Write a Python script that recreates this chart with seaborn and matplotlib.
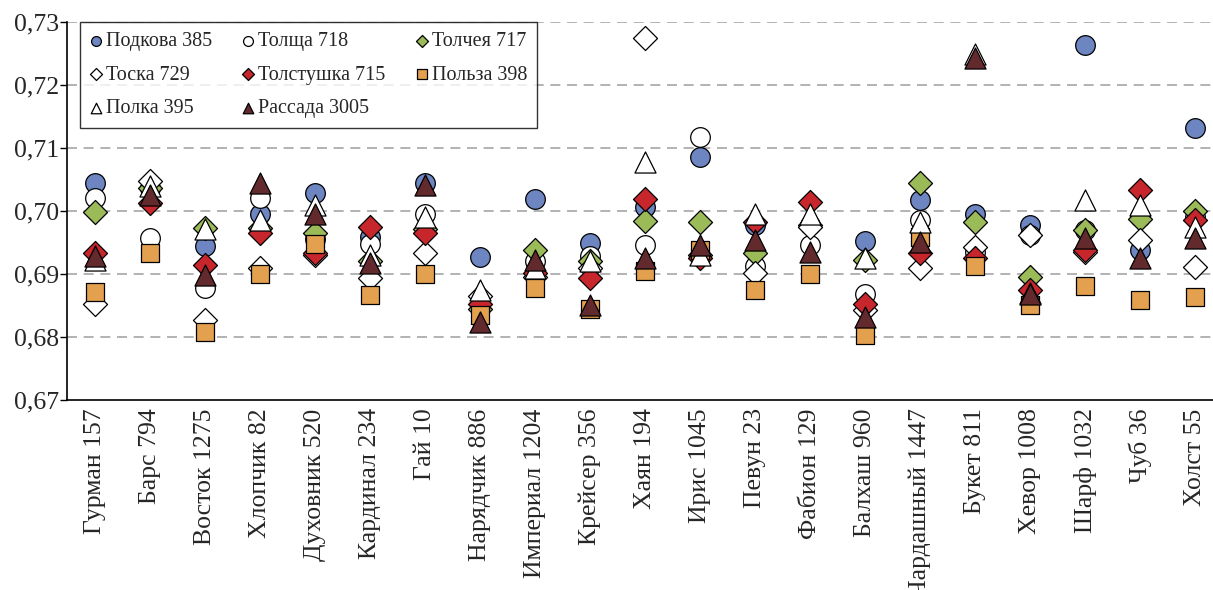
import numpy as np
import pandas as pd
import seaborn as sns
import matplotlib.pyplot as plt
from matplotlib.ticker import FixedLocator, FuncFormatter

# сорта (ось X)
sorta = ['Гурман 157', 'Барс 794', 'Восток 1275', 'Хлопчик 82', 'Духовник 520', 'Кардинал 234',
         'Гай 10', 'Нарядчик 886', 'Империал 1204', 'Крейсер 356', 'Хаян 194', 'Ирис 1045',
         'Певун 23', 'Фабион 129', 'Балхаш 960', 'Чардашный 1447', 'Букет 811', 'Хевор 1008',
         'Шарф 1032', 'Чуб 36', 'Холст 55']

# значения по сериям
podkova = [0.7045, 0.7037, 0.6945, 0.6996, 0.7029, 0.6959, 0.7044, 0.6927, 0.7019, 0.6950, 0.7006,
           0.7086, 0.6978, 0.6978, 0.6953, 0.7017, 0.6996, 0.6978, 0.7263, 0.6938, 0.7131]
tolshcha = [0.7020, 0.6957, 0.6877, 0.7020, 0.6955, 0.6947, 0.6996, 0.6850, 0.6920, 0.6929, 0.6946,
            0.7118, 0.6912, 0.6946, 0.6869, 0.6986, 0.6935, 0.6962, 0.6970, 0.6990, 0.6990]
tolcheya = [0.6999, 0.7037, 0.6973, 0.6973, 0.6965, 0.6920, 0.6972, 0.6845, 0.6938, 0.6920, 0.6984,
            0.6983, 0.6933, 0.6978, 0.6922, 0.7044, 0.6983, 0.6896, 0.6970, 0.6988, 0.7000]
toska = [0.6853, 0.7047, 0.6827, 0.6909, 0.6930, 0.6893, 0.6933, 0.6865, 0.6895, 0.6910, 0.7274,
         0.6930, 0.6901, 0.6975, 0.6843, 0.6909, 0.6943, 0.6962, 0.6935, 0.6954, 0.6911]
tolstushka = [0.6933, 0.7012, 0.6914, 0.6965, 0.6933, 0.6975, 0.6965, 0.6853, 0.6901, 0.6893, 0.7019,
              0.6925, 0.6983, 0.7015, 0.6853, 0.6933, 0.6925, 0.6875, 0.6938, 0.7033, 0.6986]
polza = [0.6871, 0.6933, 0.6808, 0.6900, 0.6947, 0.6867, 0.6900, 0.6835, 0.6878, 0.6844, 0.6904,
         0.6938, 0.6875, 0.6900, 0.6803, 0.6958, 0.6912, 0.6851, 0.6881, 0.6858, 0.6864]
polka = [0.6922, 0.7040, 0.6972, 0.6985, 0.7010, 0.6930, 0.6991, 0.6875, 0.6909, 0.6920, 0.7078,
         0.6930, 0.6996, 0.6996, 0.6925, 0.6983, 0.7250, 0.6870, 0.7017, 0.7010, 0.6975]
rassada = [0.6929, 0.7025, 0.6898, 0.7044, 0.6996, 0.6917, 0.7042, 0.6824, 0.6922, 0.6851, 0.6925,
           0.6946, 0.6954, 0.6935, 0.6832, 0.6951, 0.7243, 0.6869, 0.6957, 0.6925, 0.6957]

series = [
    ('Подкова 385', podkova, 'o', '#6d86c2'),
    ('Толща 718', tolshcha, 'o', 'white'),
    ('Толчея 717', tolcheya, 'D', '#9bbb59'),
    ('Тоска 729', toska, 'D', 'white'),
    ('Толстушка 715', tolstushka, 'D', '#c6262c'),
    ('Польза 398', polza, 's', '#e3a04f'),
    ('Полка 395', polka, '^', 'white'),
    ('Рассада 3005', rassada, '^', '#632a2e'),
]
sizes = {'o': 200, 'D': 150, 's': 170, '^': 230}

sns.set_style('white')
plt.rcParams['font.family'] = ['Liberation Serif', 'DejaVu Serif']

fig = plt.figure(figsize=(12.13, 5.90), dpi=100)
ax = fig.add_axes([67 / 1213, 190 / 590, 1156 / 1213, 378 / 590])

for name, vals, m, col in series:
    df = pd.DataFrame({'sort': sorta, 'val': vals})
    sns.scatterplot(data=df, x='sort', y='val', marker=m, color=col, edgecolor='black',
                    linewidth=0.9, s=sizes[m], label=name, ax=ax, zorder=3)

ax.set_xlim(-0.5, len(sorta) - 0.5)
ax.set_ylim(0.67, 0.73)
ax.set_xlabel('')
ax.set_ylabel('')

yt = [0.67, 0.68, 0.69, 0.70, 0.71, 0.72, 0.73]
ax.yaxis.set_major_locator(FixedLocator(yt))
ax.yaxis.set_major_formatter(FuncFormatter(lambda v, p: f'{v:.2f}'.replace('.', ',')))
for v in yt[1:]:
    ax.axhline(v, color='#a6a6a6', lw=1.2, ls=(0, (6, 4)), zorder=1)

ax.set_xticks(range(len(sorta)))
ax.set_xticklabels(sorta, rotation=90, fontsize=18.5)
ax.tick_params(axis='x', which='major', length=0, pad=6)
ax.xaxis.set_minor_locator(FixedLocator(np.arange(-0.5, len(sorta), 1.0)))
ax.tick_params(axis='x', which='minor', length=5, width=1, color='black', direction='out')
ax.tick_params(axis='y', length=5, width=1, color='black', direction='out', labelsize=18.5,
               left=True, pad=1)

for s in ['top', 'right']:
    ax.spines[s].set_visible(False)
for s in ['left', 'bottom']:
    ax.spines[s].set_color('black')
    ax.spines[s].set_linewidth(1.2)

# легенда заполняется по строкам, как в оригинале
handles, labels = ax.get_legend_handles_labels()
order = [0, 3, 6, 1, 4, 7, 2, 5]
leg = ax.legend([handles[i] for i in order], [labels[i] for i in order], ncol=3,
                loc='upper left', bbox_to_anchor=(0.011, 1.0),
                fontsize=14.5, markerscale=0.5, frameon=True, fancybox=False, edgecolor='black',
                handlelength=0.6, handletextpad=0.2, columnspacing=1.5, labelspacing=0.72,
                borderpad=0.5, borderaxespad=0)
leg.get_frame().set_linewidth(1.0)
leg.set_zorder(5)

fig.savefig('out.png', dpi=100)
